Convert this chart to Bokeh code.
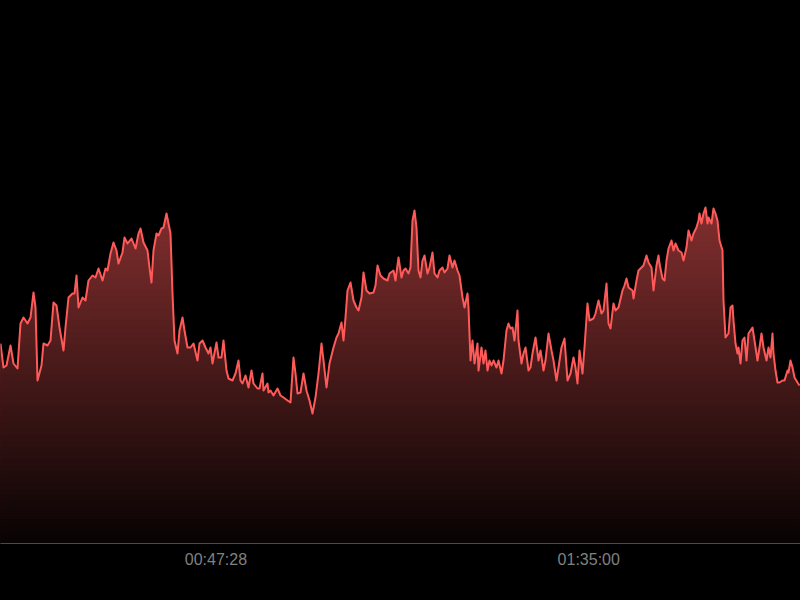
import numpy as np
from bokeh.plotting import figure
from bokeh.models import FixedTicker, CustomJSTickFormatter, Range1d
from bokeh.embed import file_html
from bokeh.resources import INLINE

# Recording: sample index with a fixed sampling period, offset from session start
START_SEC = 1200.0
SAMPLE_SEC = 7.65

sample_idx = [
    0, 3, 6, 10, 13, 17, 20, 23, 27, 30, 33, 35, 37, 41, 43, 47, 50, 53, 56, 59,
    63, 65, 68, 72, 74, 76, 78, 82, 85, 88, 92, 95, 98, 102, 105, 107, 110, 113, 116, 118,
    122, 124, 127, 131, 133,
    135, 138, 140, 143, 147, 149, 151, 153, 156, 158, 161, 163, 166, 168, 170, 172, 174, 177, 179, 182,
    184, 187, 190, 193, 197, 199, 202, 205, 208, 210, 212, 216, 218, 221, 223, 226, 228, 232, 235, 238,
    240, 242, 245, 248, 251, 253, 257, 259, 262, 263, 267, 268,
    270, 273, 277, 280, 283, 287, 290, 293, 295, 297, 300, 303, 306, 309, 312, 315, 318, 321, 323, 326,
    329, 333, 336, 338, 341, 343, 345, 347, 350, 353, 356, 358, 361, 363, 366, 369, 373, 375, 377, 380,
    383, 387, 389, 393, 395, 398, 401, 403,
    405, 408, 410, 412, 414, 416, 418, 420, 422, 424, 427, 429, 432, 434, 437, 439, 442, 444, 447, 449,
    452, 454, 457, 459, 462, 464, 467, 468, 470, 472, 474, 477, 478, 481, 483, 485, 487, 489, 491, 493,
    496, 498, 501, 503, 506, 508, 510, 512, 514, 517, 518, 521, 523, 525, 528, 530, 532, 535, 538, 540,
    543, 545, 548, 551, 553, 556, 558, 561, 564, 567, 570, 573, 575, 577, 579, 582, 584, 587, 589, 593,
    595, 598, 601, 603, 606, 608, 610, 613, 615, 618, 622, 624, 626, 628, 632, 633, 636, 638, 641, 643,
    646, 648, 651, 653, 656, 658, 659, 662, 664, 666, 668, 671, 673,
    675, 678, 681, 683, 686, 688, 691, 693, 696, 698, 699, 701, 703, 705, 707, 708, 711, 713, 715, 717,
    719, 722, 723, 725, 728, 730, 732, 733, 735, 737, 738, 740, 742, 744, 746, 748, 750, 752, 754, 757,
    759, 761, 763, 766, 768, 770, 772, 773, 775, 777, 779, 782, 784, 787, 788, 790, 792, 794, 797, 799,
]

heart_rate = [
    100, 88, 89, 99, 90, 87.5, 110, 113, 110, 113, 125.5, 118, 81.5, 89, 100, 99, 101.5, 120.5, 119, 108,
    96.5, 108, 123, 125, 125, 134, 118, 123, 121.5, 131.5, 134, 133, 137.5, 131.5, 137.5, 136.5, 145, 150.5, 146.5, 140,
    145.5, 153, 150, 152.5, 150,
    147.5, 155, 157.5, 150.5, 146.5, 138, 130.5, 146.5, 155, 154, 157.5, 158, 165, 160, 155, 125, 101.5, 95, 106.5, 113,
    106.5, 98, 98, 100, 91.5, 100, 101.5, 98, 95, 98, 90, 100.5, 93, 93, 101.5, 86.5, 82.5, 81.5, 85, 91.5,
    81.5, 80, 84, 78, 86.5, 80, 77.5, 77.5, 85, 76.5, 80, 75.5,
    76.5, 74, 77.5, 74, 73, 71.5, 70.5, 93, 85, 75, 75.5, 85, 76.5, 71.5, 65, 73, 85, 100, 91.5, 78,
    90, 98, 103, 105, 110.5, 101.5, 113, 126.5, 130.5, 121.5, 118, 116.5, 123, 135.5, 126.5, 125, 125.5, 129, 139, 134,
    132.5, 131.5, 135, 136.5, 131.5, 143, 133, 136.5,
    137.5, 135, 138, 161.5, 166.5, 158, 136.5, 133, 141.5, 144, 135, 138, 145.5, 135, 133, 136.5, 138, 135.5, 137.5, 144,
    138, 141.5, 136.5, 134, 123, 118, 125, 118, 91.5, 101.5, 90, 100, 86.5, 98, 90, 96.5, 86.5, 91.5, 89, 91.5,
    88, 91.5, 85, 91.5, 106.5, 110, 107.5, 108, 101.5, 116.5, 101.5, 90, 95, 98, 86.5, 88, 95, 103, 91.5, 96.5,
    86.5, 91.5, 105, 96.5, 91.5, 81.5, 88, 98, 102.5, 81.5, 85, 93, 88, 80, 96.5, 85, 98, 120, 111.5, 112.5,
    115, 121.5, 115, 116.5, 130, 110, 107.5, 120, 116.5, 118, 126.5, 129, 132.5, 128, 126.5, 122.5, 131.5, 136.5, 138, 139,
    144, 140.5, 138, 126.5, 139, 144, 140, 132.5, 131.5, 141.5, 147.5, 151.5, 146.5,
    150, 146.5, 145.5, 141.5, 148, 156.5, 151.5, 155, 158, 161.5, 165, 160, 165, 168, 160, 163, 160, 167.5, 165, 161.5,
    151.5, 146.5, 121.5, 103, 105, 118, 119, 111.5, 100, 95, 98, 90, 101.5, 103, 91.5, 105, 106.5, 108, 101.5, 91.5,
    98, 105, 98, 91.5, 98, 93, 105, 95, 86.5, 80.5, 80.5, 81.5, 81.5, 86.5, 85.5, 91.5, 88, 83, 80.5, 79,
]

tick_seconds = [2848, 5700]
tick_labels = ["00:47:28", "01:35:00"]

LINE_RGB = (255, 90, 90)
Y_MAX = 271.5

t = START_SEC + SAMPLE_SEC * np.array(sample_idx, dtype=float)
hr = np.array(heart_rate, dtype=float)

p = figure(
    width=800, height=600,
    output_backend="svg", toolbar_location=None,
    x_range=Range1d(START_SEC, START_SEC + 800 * SAMPLE_SEC),
    y_range=Range1d(0, Y_MAX),
    y_axis_location=None,
    min_border_left=0, min_border_right=0, min_border_top=0, min_border_bottom=57,
)
p.background_fill_color = "#000000"
p.border_fill_color = "#000000"
p.outline_line_color = None
p.grid.visible = False

# vertical gradient fill under the curve, built from stacked bands (top band first)
n_bands = 90
edges = np.linspace(0, Y_MAX, n_bands + 1)
for k in range(n_bands - 1, -1, -1):
    top = edges[k + 1]
    frac = (edges[k] + edges[k + 1]) / 2 / Y_MAX
    a = 0.03 + 0.78 * frac
    col = "#%02x%02x%02x" % tuple(int(round(c * a)) for c in LINE_RGB)
    p.varea(x=t, y1=np.minimum(hr, top), y2=0, fill_color=col, fill_alpha=1.0)

p.line(t, hr, line_color="#%02x%02x%02x" % LINE_RGB, line_width=2, line_join="round")

ax = p.xaxis[0]
ax.ticker = FixedTicker(ticks=tick_seconds)
ax.formatter = CustomJSTickFormatter(
    args=dict(tick_vals=tick_seconds, tick_text=tick_labels),
    code="const i = tick_vals.indexOf(tick); return i >= 0 ? tick_text[i] : '';",
)
ax.axis_line_color = "#4a4a4c"
ax.axis_line_width = 1
ax.major_tick_line_color = None
ax.minor_tick_line_color = None
ax.major_tick_out = 0
ax.major_tick_in = 0
ax.major_label_standoff = 7
ax.major_label_text_color = "#808080"
ax.major_label_text_font = "Liberation Sans"
ax.major_label_text_font_size = "16px"

html = file_html(p, INLINE)
html = html.replace("</head>", "<style>html, body { background: #000000; }</style></head>", 1)
open("out.html", "w").write(html)
